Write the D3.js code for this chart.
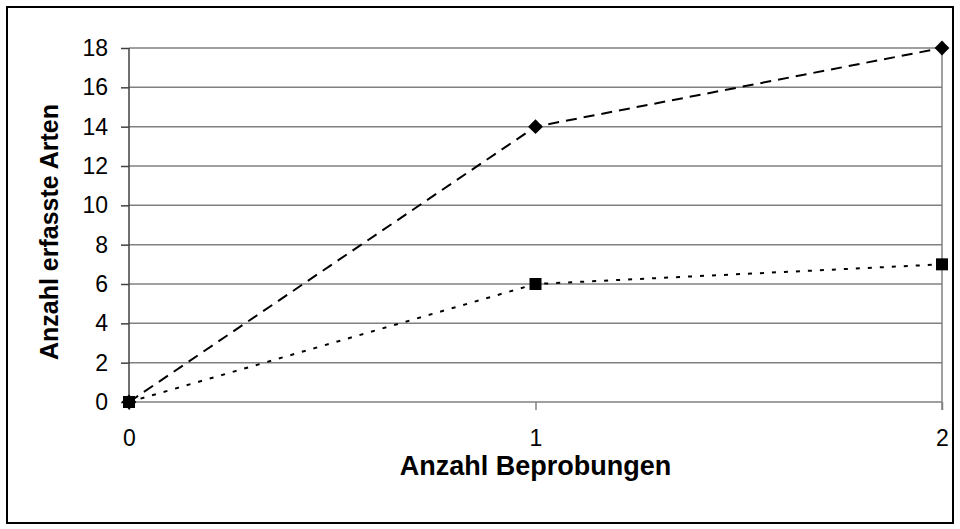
<!DOCTYPE html>
<html>
<head>
<meta charset="utf-8">
<script src="https://cdn.jsdelivr.net/npm/d3@7"></script>
<style>
  body { margin: 0; background: #fff; }
  text { font-family: "Liberation Sans", Arial, sans-serif; fill: #000; }
</style>
</head>
<body>
<svg width="960" height="529"></svg>
<script>
// Werte
var samples = [0, 1, 2];
var seriesDiamond = [0, 14, 18];
var seriesSquare = [0, 6, 7];
var yTicks = [0, 2, 4, 6, 8, 10, 12, 14, 16, 18];

var svg = d3.select("svg"),
    width = +svg.attr("width"),
    height = +svg.attr("height");

// chart frame
svg.append("rect")
    .attr("x", 7).attr("y", 7)
    .attr("width", 946).attr("height", 516)
    .attr("fill", "none")
    .attr("stroke", "#000")
    .attr("stroke-width", 2);

var x = d3.scaleLinear().domain([0, 2]).range([129, 942]);
var y = d3.scaleLinear().domain([0, 18]).range([402, 48]);

// horizontal gridlines
svg.append("g")
    .selectAll("line")
    .data(yTicks)
    .enter().append("line")
    .attr("x1", x(0)).attr("x2", x(2))
    .attr("y1", function(d) { return y(d); })
    .attr("y2", function(d) { return y(d); })
    .attr("stroke", "#808080")
    .attr("stroke-width", 1.5);

// right border line
svg.append("line")
    .attr("x1", x(2)).attr("x2", x(2))
    .attr("y1", y(18)).attr("y2", y(0) + 8)
    .attr("stroke", "#808080")
    .attr("stroke-width", 1.5);

// y axis
var yAxis = d3.axisLeft(y).tickValues(yTicks).tickSize(8).tickPadding(13);
var gy = svg.append("g")
    .attr("transform", "translate(" + x(0) + ",0)")
    .call(yAxis);
gy.select(".domain").remove();
gy.append("line")
    .attr("y1", y(18)).attr("y2", y(0))
    .attr("stroke", "#404040").attr("stroke-width", 1.5);
gy.selectAll(".tick line").attr("stroke", "#404040").attr("stroke-width", 1.5);
gy.selectAll(".tick text")
    .style("font-size", "23px")
    .style("font-family", "'Liberation Sans', Arial, sans-serif")
    .attr("fill", "#000");

// x axis
var xAxis = d3.axisBottom(x).tickValues(samples).tickFormat(d3.format("d")).tickSize(8).tickPadding(20);
var gx = svg.append("g")
    .attr("transform", "translate(0," + y(0) + ")")
    .call(xAxis);
gx.select(".domain").remove();
gx.selectAll(".tick line").attr("stroke", "#808080").attr("stroke-width", 1.5);
gx.selectAll(".tick text")
    .style("font-size", "23px")
    .style("font-family", "'Liberation Sans', Arial, sans-serif")
    .attr("fill", "#000");

// axis titles
svg.append("text")
    .attr("x", (x(0) + x(2)) / 2)
    .attr("y", 475)
    .attr("text-anchor", "middle")
    .style("font-size", "27px")
    .style("font-weight", "bold")
    .text("Anzahl Beprobungen");

svg.append("text")
    .attr("transform", "translate(58,232) rotate(-90)")
    .attr("text-anchor", "middle")
    .style("font-size", "25px")
    .style("font-weight", "bold")
    .text("Anzahl erfasste Arten");

var line = d3.line()
    .x(function(d, i) { return x(samples[i]); })
    .y(function(d) { return y(d); });

// dotted series (squares)
svg.append("path")
    .datum(seriesSquare)
    .attr("d", line)
    .attr("fill", "none")
    .attr("stroke", "#000")
    .attr("stroke-width", 2)
    .attr("stroke-dasharray", "4,8");

// dashed series (diamonds)
svg.append("path")
    .datum(seriesDiamond)
    .attr("d", line)
    .attr("fill", "none")
    .attr("stroke", "#000")
    .attr("stroke-width", 2)
    .attr("stroke-dasharray", "11,7");

svg.append("g")
    .selectAll("path")
    .data(seriesDiamond)
    .enter().append("path")
    .attr("d", d3.symbol().type(d3.symbolDiamond2).size(140))
    .attr("transform", function(d, i) { return "translate(" + x(samples[i]) + "," + y(d) + ")"; })
    .attr("fill", "#000");

svg.append("g")
    .selectAll("rect")
    .data(seriesSquare)
    .enter().append("rect")
    .attr("x", function(d, i) { return x(samples[i]) - 6; })
    .attr("y", function(d) { return y(d) - 6; })
    .attr("width", 12).attr("height", 12)
    .attr("fill", "#000");
</script>
</body>
</html>
